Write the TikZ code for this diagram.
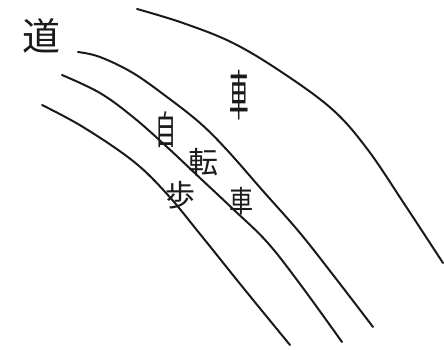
\documentclass[tikz,border=0pt]{standalone}
\usepackage{fontspec}
\newfontfamily\jpfont{Noto Sans CJK JP}
\definecolor{sketchink}{HTML}{1A1A1A}

\begin{document}
\begin{tikzpicture}[x=1pt, y=-1pt,
                    sketchline/.style={sketchink, line width=2pt, line cap=round},
                    every node/.style={sketchink, inner sep=0pt,
                                       font=\jpfont\fontsize{30}{30}\selectfont}]

  \useasboundingbox (0,0) rectangle (444,350);

  %% 車道の外側の線
  \draw[sketchline] plot[smooth, tension=0.6] coordinates
    {(137,9) (183,23) (233,43) (283,73) (333,110) (368,150) (405,205) (443,263)};

  %% 車道と自転車道の境界
  \draw[sketchline] plot[smooth, tension=0.6] coordinates
    {(78,52) (100,57) (133,73) (167,97) (200,123) (227,150) (263,191) (300,233) (337,280) (373,327)};

  %% 自転車道と歩道の境界
  \draw[sketchline] plot[smooth, tension=0.6] coordinates
    {(62,75) (100,93) (133,117) (167,147) (200,178) (233,209) (267,242) (300,284) (342,342)};

  %% 歩道の内側の線
  \draw[sketchline] plot[smooth, tension=0.6] coordinates
    {(42,105) (83,127) (133,161) (167,194) (200,234) (245,290) (290,345)};

  %% 文字
  \node[font=\jpfont\fontsize{38}{38}\selectfont] (road) at (42,36) {道};
  \node[xscale=0.65, yscale=1.8] (car) at (239,95) {車};
  \node[xscale=0.7, yscale=1.3] (self) at (166,130) {自};
  \node (turn) at (203,162) {転};
  \node[xscale=0.8] (bike) at (241,201) {車};
  \node (walk) at (180,195) {歩};

\end{tikzpicture}
\end{document}
